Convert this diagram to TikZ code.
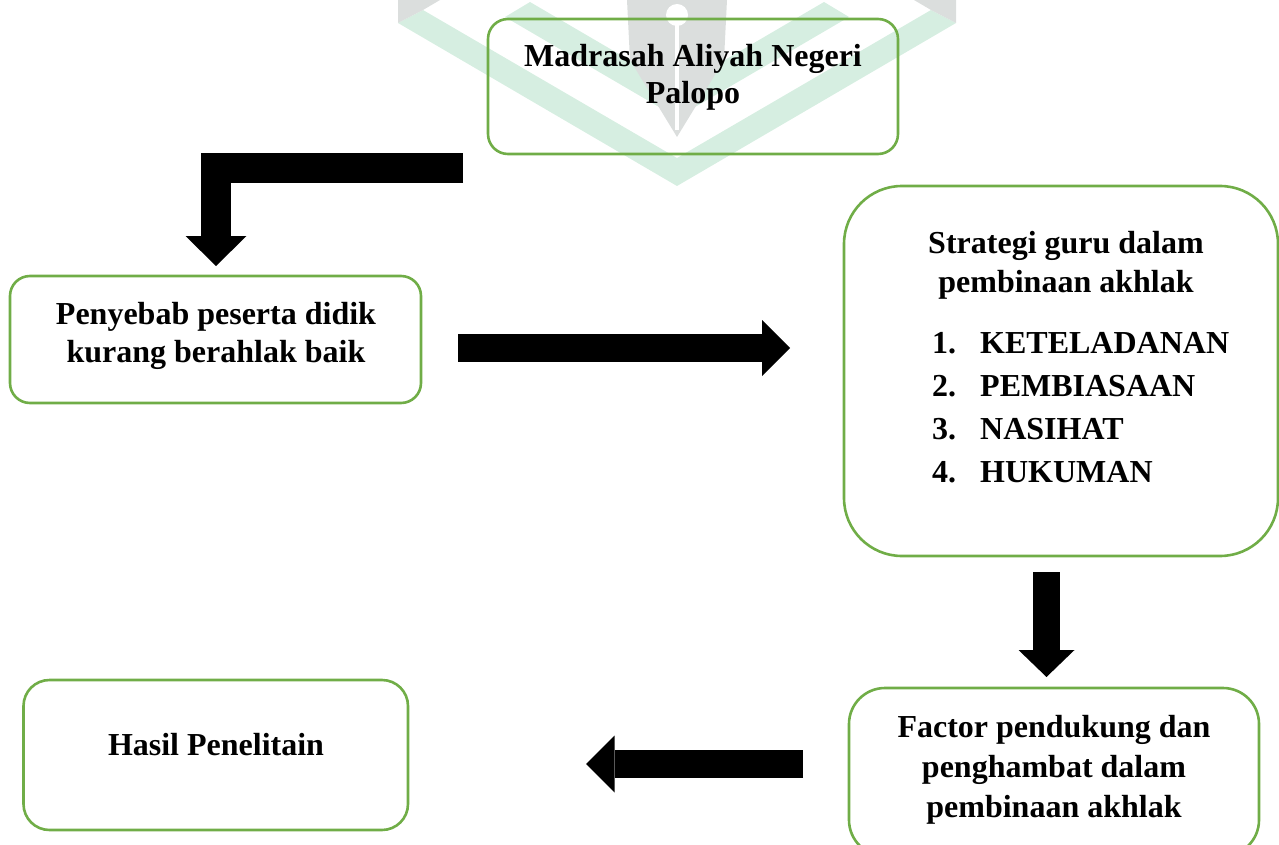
\documentclass[tikz,border=0pt]{standalone}
\usepackage{fontspec}
\setmainfont{Liberation Serif}
\usetikzlibrary{arrows.meta}
\definecolor{boxgreen}{RGB}{112,173,71}
\definecolor{wmgreen}{RGB}{214,238,225}
\definecolor{wmgray}{RGB}{219,222,221}
\tikzset{
  box/.style={draw=boxgreen, line width=2.6pt, inner sep=0pt},
  lbl/.style={font=\fontsize{32}{38}\selectfont\bfseries, anchor=base, inner sep=0pt},
  blockarrow/.style n args={3}{line width=#1, line join=miter,
    arrows={-{Triangle[length=#2,width=#3,line width=0pt]}}}
}
\begin{document}
\begin{tikzpicture}[x=1pt,y=-1pt]
\useasboundingbox (0,0) rectangle (1279,845);
\clip (0,0) rectangle (1279,845);
% watermark
\fill[wmgreen] (398,23) -- (677,186) -- (956,23) -- (931,10) -- (677,158) -- (423,10) -- cycle;
\fill[wmgreen] (505,17) -- (677,117.5) -- (849,17) -- (824,2) -- (677,88) -- (530,2) -- cycle;
\fill[wmgray] (398,0) -- (398,23) -- (423,10) -- (440,0) -- cycle;
\fill[wmgray] (956,0) -- (956,23) -- (931,10) -- (914,0) -- cycle;
\fill[wmgray] (627,0) -- (630,60) -- (677,137) -- (724,60) -- (727,0) -- cycle;
\fill[white] (677,15) circle[radius=11pt];
\draw[white, line width=4pt] (677,20) -- (677,130);
% boxes
\node[box, rounded corners=20pt, minimum width=410pt, minimum height=135pt] (mad) at (693,86.5) {};
\node[box, rounded corners=20pt, minimum width=411pt, minimum height=127pt] (sebab) at (215.5,339.5) {};
\node[box, rounded corners=58pt, minimum width=434pt, minimum height=370pt] (strat) at (1061,371) {};
\node[box, rounded corners=36pt, minimum width=410pt, minimum height=168pt] (faktor) at (1054,772) {};
\node[box, rounded corners=26pt, minimum width=384.5pt, minimum height=150pt] (hasil) at (215.75,755) {};
% texts
\node[lbl] (mad1) at (693,67) {Madrasah Aliyah Negeri};
\node[lbl] (mad2) at (693,104) {Palopo};
\node[lbl] (seb1) at (216,324) {Penyebab peserta didik};
\node[lbl] (seb2) at (216,362) {kurang berahlak baik};
\node[lbl] (str1) at (1066,253) {Strategi guru dalam};
\node[lbl] (str2) at (1066,292) {pembinaan akhlak};
\node[lbl, anchor=base west] (n1) at (932,353) {1.};
\node[lbl, anchor=base west] (k1) at (980,353) {KETELADANAN};
\node[lbl, anchor=base west] (n2) at (932,396) {2.};
\node[lbl, anchor=base west] (k2) at (980,396) {PEMBIASAAN};
\node[lbl, anchor=base west] (n3) at (932,439) {3.};
\node[lbl, anchor=base west] (k3) at (980,439) {NASIHAT};
\node[lbl, anchor=base west] (n4) at (932,482) {4.};
\node[lbl, anchor=base west] (k4) at (980,482) {HUKUMAN};
\node[lbl] (fak1) at (1054,737) {Factor pendukung dan};
\node[lbl] (fak2) at (1054,777) {penghambat dalam};
\node[lbl] (fak3) at (1054,817) {pembinaan akhlak};
\node[lbl] (has1) at (216,755) {Hasil Penelitain};
% block arrows
\coordinate (a1s) at (463,168);
\coordinate (a1e) at (216,266);
\coordinate (a2s) at (458,348);
\coordinate (a2e) at (790,348);
\coordinate (a3s) at (1046.5,572);
\coordinate (a3e) at (1046.5,677);
\coordinate (a4s) at (803,764);
\coordinate (a4e) at (586,764);
\draw[blockarrow={30pt}{30pt}{61pt}] (a1s) -| (a1e);
\draw[blockarrow={28pt}{28pt}{56pt}] (a2s) -- (a2e);
\draw[blockarrow={27pt}{27pt}{56pt}] (a3s) -- (a3e);
\draw[blockarrow={28pt}{28.5pt}{57pt}] (a4s) -- (a4e);
\end{tikzpicture}
\end{document}
